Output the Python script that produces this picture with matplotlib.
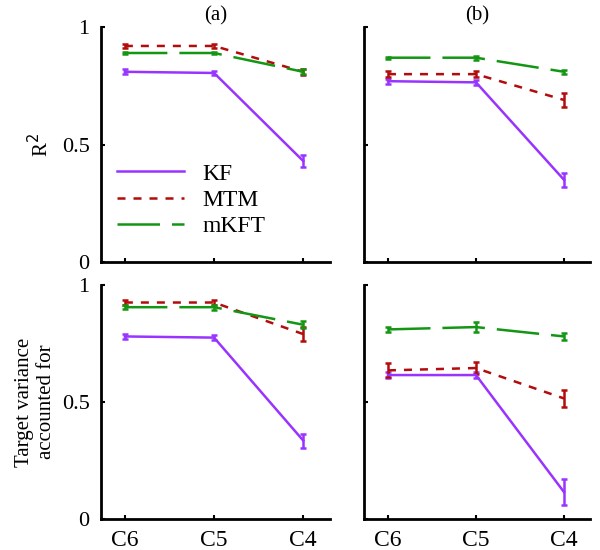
import matplotlib.pyplot as plt

plt.rcParams['font.family'] = ['Liberation Serif', 'DejaVu Serif']

levels = ['C6', 'C5', 'C4']
x = [0, 1, 2]

# (a) R^2
kf_r2_a = [0.81, 0.805, 0.43]
mtm_r2_a = [0.92, 0.92, 0.81]
mkft_r2_a = [0.89, 0.89, 0.81]
kf_r2_a_err = [0.01, 0.01, 0.025]
mtm_r2_a_err = [0.008, 0.01, 0.012]
mkft_r2_a_err = [0.005, 0.005, 0.01]

# (b) R^2
kf_r2_b = [0.77, 0.765, 0.35]
mtm_r2_b = [0.80, 0.80, 0.69]
mkft_r2_b = [0.87, 0.87, 0.81]
kf_r2_b_err = [0.01, 0.01, 0.03]
mtm_r2_b_err = [0.012, 0.012, 0.03]
mkft_r2_b_err = [0.005, 0.008, 0.008]

# (a) target variance
kf_tv_a = [0.78, 0.775, 0.335]
mtm_tv_a = [0.925, 0.925, 0.79]
mkft_tv_a = [0.905, 0.905, 0.83]
kf_tv_a_err = [0.01, 0.01, 0.03]
mtm_tv_a_err = [0.01, 0.01, 0.03]
mkft_tv_a_err = [0.008, 0.01, 0.015]

# (b) target variance
kf_tv_b = [0.615, 0.615, 0.115]
mtm_tv_b = [0.635, 0.645, 0.515]
mkft_tv_b = [0.81, 0.82, 0.78]
kf_tv_b_err = [0.012, 0.012, 0.055]
mtm_tv_b_err = [0.03, 0.025, 0.035]
mkft_tv_b_err = [0.01, 0.02, 0.015]

purple = '#9933ff'
red = '#b30c0c'
green = '#139613'
lw = 1.8

fig = plt.figure(figsize=(6, 5.5), dpi=100)
axes = [
    fig.add_axes([0.168, 0.5236, 0.382, 0.427]),
    fig.add_axes([0.607, 0.5236, 0.377, 0.427]),
    fig.add_axes([0.168, 0.0564, 0.382, 0.4255]),
    fig.add_axes([0.607, 0.0564, 0.377, 0.4255]),
]

panels = [
    (kf_r2_a, kf_r2_a_err, mtm_r2_a, mtm_r2_a_err, mkft_r2_a, mkft_r2_a_err),
    (kf_r2_b, kf_r2_b_err, mtm_r2_b, mtm_r2_b_err, mkft_r2_b, mkft_r2_b_err),
    (kf_tv_a, kf_tv_a_err, mtm_tv_a, mtm_tv_a_err, mkft_tv_a, mkft_tv_a_err),
    (kf_tv_b, kf_tv_b_err, mtm_tv_b, mtm_tv_b_err, mkft_tv_b, mkft_tv_b_err),
]

for i, (ax, p) in enumerate(zip(axes, panels)):
    kf, kfe, mtm, mtme, mk, mke = p
    ax.errorbar(x, kf, yerr=kfe, color=purple, lw=lw, capsize=2.5,
                elinewidth=lw, capthick=lw, label='KF')
    l2 = ax.errorbar(x, mtm, yerr=mtme, color=red, lw=lw, capsize=2.5,
                     elinewidth=lw, capthick=lw, label='MTM')
    l2[0].set_dashes((3.2, 3.2))
    l3 = ax.errorbar(x, mk, yerr=mke, color=green, lw=lw, capsize=2.5,
                     elinewidth=lw, capthick=lw, label='mKFT')
    l3[0].set_dashes((17, 4.8))
    ax.set_xlim(-0.27, 2.3)
    ax.set_ylim(0, 1)
    ax.set_yticks([0, 0.5, 1])
    ax.set_xticks(x)
    ax.spines['top'].set_visible(False)
    ax.spines['right'].set_visible(False)
    ax.spines['left'].set_linewidth(2)
    ax.spines['bottom'].set_linewidth(2)
    ax.tick_params(direction='in', length=3, width=1.5, labelsize=16, pad=8)
    ax.tick_params(axis='x', labelsize=17)
    if i % 2 == 0:
        ax.set_yticklabels(['0', '0.5', '1'])
    else:
        ax.set_yticklabels([])
    if i < 2:
        ax.set_xticklabels([])
    else:
        ax.set_xticklabels(levels)

axes[0].set_title('(a)', fontsize=15, pad=5)
axes[1].set_title('(b)', fontsize=15, pad=5)
axes[0].set_ylabel('R$^2$', fontsize=15, labelpad=6)
axes[2].set_ylabel('Target variance\naccounted for', fontsize=15, labelpad=4)

h, lab = axes[0].get_legend_handles_labels()
h = [hh[0] for hh in h]
axes[0].legend(h, lab, loc='lower left', bbox_to_anchor=(-0.02, 0.015),
               frameon=False, fontsize=17, handlelength=2.8, handletextpad=0.8,
               labelspacing=0.2)

fig.savefig('out.png', dpi=100)
